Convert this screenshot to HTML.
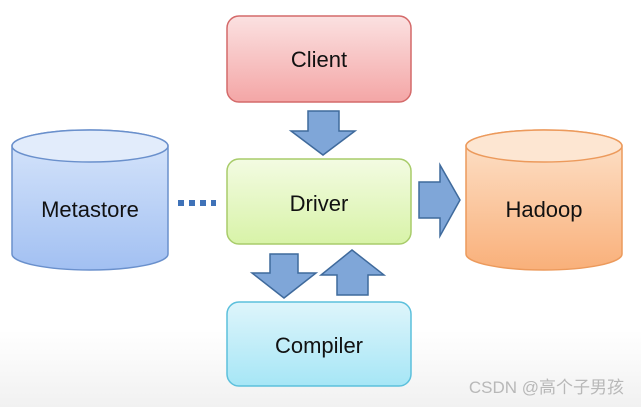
<!DOCTYPE html>
<html><head><style>
body{margin:0;width:641px;height:407px;overflow:hidden;background:linear-gradient(#fff 0,#fff 330px,#f1f1f1 407px);font-family:"Liberation Sans","Noto Sans CJK SC",sans-serif;}
</style></head><body>
<svg width="641" height="407" xmlns="http://www.w3.org/2000/svg">
<defs>
<linearGradient id="r" x1="0" y1="0" x2="0" y2="1"><stop offset="0" stop-color="#fbe1e1"/><stop offset="1" stop-color="#f4a6a6"/></linearGradient>
<linearGradient id="g" x1="0" y1="0" x2="0" y2="1"><stop offset="0" stop-color="#f3fbe2"/><stop offset="1" stop-color="#d8f3a8"/></linearGradient>
<linearGradient id="c" x1="0" y1="0" x2="0" y2="1"><stop offset="0" stop-color="#def5fb"/><stop offset="1" stop-color="#a6e6f6"/></linearGradient>
<linearGradient id="b" x1="0" y1="0" x2="0" y2="1"><stop offset="0" stop-color="#d8e6fb"/><stop offset="1" stop-color="#a2c0f2"/></linearGradient>
<linearGradient id="o" x1="0" y1="0" x2="0" y2="1"><stop offset="0" stop-color="#fde3cc"/><stop offset="1" stop-color="#f9b07a"/></linearGradient>
</defs>
<rect x="227" y="16" width="184" height="86" rx="12" fill="url(#r)" stroke="#d46a6a" stroke-width="1.5"/>
<rect x="227" y="159" width="184" height="85" rx="12" fill="url(#g)" stroke="#a8cc6a" stroke-width="1.5"/>
<rect x="227" y="302" width="184" height="84" rx="12" fill="url(#c)" stroke="#5cc0dc" stroke-width="1.5"/>
<path d="M12,146 A78,16 0 0 1 168,146 L168,254 A78,16 0 0 1 12,254 Z" fill="url(#b)" stroke="#6a90cc" stroke-width="1.5"/>
<ellipse cx="90" cy="146" rx="78" ry="16" fill="#e2ecfb" stroke="#6a90cc" stroke-width="1.5"/>
<path d="M466,146 A78,16 0 0 1 622,146 L622,254 A78,16 0 0 1 466,254 Z" fill="url(#o)" stroke="#ec9a5c" stroke-width="1.5"/>
<ellipse cx="544" cy="146" rx="78" ry="16" fill="#fde6d2" stroke="#ec9a5c" stroke-width="1.5"/>
<g fill="#7fa6d8" stroke="#3f6a9c" stroke-width="1.5">
<path d="M308,111 H339 V131 H355 L323,155 L291,131 H308 Z"/>
<path d="M419,182 H440 V165 L460,200 L440,236 V218 H419 Z"/>
<path d="M270,254 H298 V273 H316 L284,298 L252,273 H270 Z"/>
<path d="M337,295 H368 V275 H384 L352,250 L321,275 H337 Z"/>
</g>
<g fill="#3f72b8"><rect x="178" y="200" width="6" height="6"/><rect x="189" y="200" width="6" height="6"/><rect x="200" y="200" width="6" height="6"/><rect x="211" y="200" width="5" height="6"/></g>
<g font-size="22" fill="#111" text-anchor="middle">
<text x="319" y="67">Client</text>
<text x="319" y="211">Driver</text>
<text x="319" y="353">Compiler</text>
<text x="90" y="217">Metastore</text>
<text x="544" y="217">Hadoop</text>
</g>
<text x="624" y="393" font-size="17" fill="#b8b8b8" text-anchor="end">CSDN @高个子男孩</text>
</svg>
</body></html>
